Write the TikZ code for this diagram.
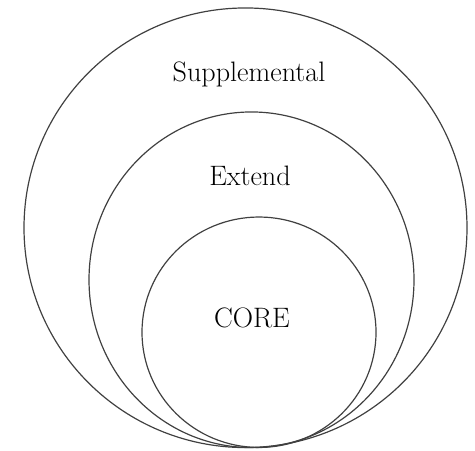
\documentclass[tikz,border=0pt]{standalone}
\usetikzlibrary{shapes.geometric}

\def\lw{.85pt}

\begin{document}
\begin{tikzpicture}
  \tikzset{ring/.style={ellipse,draw=black!75,line width=\lw,inner sep=0pt,outer sep=0pt},
           level/.style={anchor=base,font=\fontsize{20}{24}\selectfont}}

  \useasboundingbox (0,0) rectangle (11.875,11.25);

  \node[ring,minimum width=11.075cm,minimum height=10.99cm] (supplemental) at (6.1375,5.556) {};
  \node[ring,minimum width=8.125cm,minimum height=8.39cm] (extend) at (6.2875,4.256) {};
  \node[ring,minimum width=5.85cm,minimum height=5.76cm] (core) at (6.475,2.944) {};

  \node[level] (supplementalText) at (6.225,9.2) {Supplemental};
  \node[level] (extendText) at (6.25,6.625) {Extend};
  \node[level] (coreText) at (6.3,3.075) {CORE};
\end{tikzpicture}
\end{document}
